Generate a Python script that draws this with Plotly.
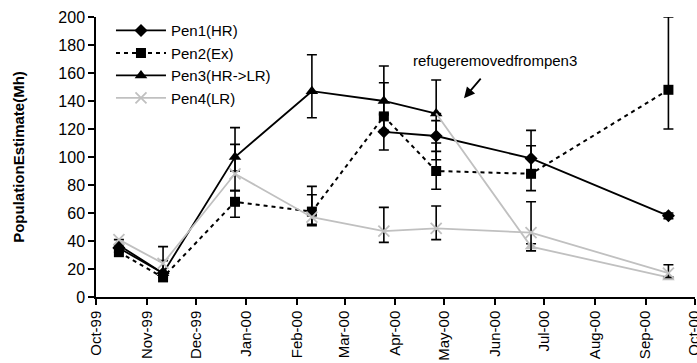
import plotly.graph_objects as go

dates = ["1999-10-15", "1999-11-11", "1999-12-25", "2000-02-10",
         "2000-03-25", "2000-04-26", "2000-06-23", "2000-09-15"]

pen1 = [35, 17, None, None, 118, 115, 99, 58]
pen1_plus = [None, 9, None, None, 13, 11, 20, 2]
pen1_minus = [None, None, None, None, 13, 11, 11, 2]

pen2 = [32, 14, 68, 61, 129, 90, 88, 148]
pen2_plus = [None, None, 8, 18, 24, 20, 20, 52]
pen2_minus = [None, None, 11, 10, 10, 13, 12, 28]

pen3 = [37, 17, 100, 147, 140, 131, 36, 14]
pen3_plus = [None, None, 21, 26, 25, 24, 2, None]
pen3_minus = [None, None, 10, 19, 10, 33, 3, None]

pen4 = [41, 24, 88, 57, 47, 49, 46, 17]
pen4_plus = [None, 12, 21, 16, 17, 16, 22, 6]
pen4_minus = [None, 8, 12, 5, 8, 8, 13, 3]

names = ["Pen1(HR)", "Pen2(Ex)", "Pen3(HR->LR)", "Pen4(LR)"]
refuge_idx = 5  # Pen3 switches to low refuge after this sampling date

BLACK = "#000000"
GRAY = "#c0c0c0"
FONT = "Liberation Sans, Arial, sans-serif"


def err(plus, minus):
    return dict(type="data", symmetric=False, array=plus, arrayminus=minus,
                color=BLACK, thickness=1.6, width=5)


fig = go.Figure()

fig.add_trace(go.Scatter(
    x=dates, y=pen1, name=names[0], mode="lines+markers",
    line=dict(color=BLACK, width=1.8),
    marker=dict(symbol="diamond", size=10, color=BLACK),
    error_y=err(pen1_plus, pen1_minus)))

fig.add_trace(go.Scatter(
    x=dates, y=pen2, name=names[1], mode="lines+markers",
    line=dict(color=BLACK, width=2, dash="4px,4px"),
    marker=dict(symbol="square", size=10, color=BLACK),
    error_y=err(pen2_plus, pen2_minus)))

fig.add_trace(go.Scatter(
    x=dates[:refuge_idx + 1], y=pen3[:refuge_idx + 1], name=names[2],
    mode="lines+markers",
    line=dict(color=BLACK, width=1.8),
    marker=dict(symbol="triangle-up", size=11, color=BLACK),
    error_y=err(pen3_plus[:refuge_idx + 1], pen3_minus[:refuge_idx + 1])))

fig.add_trace(go.Scatter(
    x=dates[refuge_idx:], y=pen3[refuge_idx:], name=names[2],
    mode="lines+markers", showlegend=False,
    line=dict(color=GRAY, width=1.8),
    marker=dict(symbol="triangle-up", size=11,
                color=["rgba(0,0,0,0)"] + [GRAY] * (len(dates) - refuge_idx - 1)),
    error_y=err([None] + pen3_plus[refuge_idx + 1:],
                [None] + pen3_minus[refuge_idx + 1:])))

fig.add_trace(go.Scatter(
    x=dates, y=pen4, name=names[3], mode="lines+markers",
    line=dict(color=GRAY, width=1.8),
    marker=dict(symbol="x-thin", size=11, color=GRAY,
                line=dict(color=GRAY, width=1.8)),
    error_y=err(pen4_plus, pen4_minus)))

fig.add_annotation(
    x="2000-05-13", y=142, xref="x", yref="y", text="",
    showarrow=True, arrowhead=2, arrowsize=1.2, arrowwidth=1.8,
    arrowcolor=BLACK, ax=18, ay=-21)
fig.add_annotation(
    x="2000-06-01", y=169, xref="x", yref="y", text="refugeremovedfrompen3",
    showarrow=False, font=dict(family=FONT, size=15, color=BLACK))

fig.update_layout(
    width=697, height=363,
    margin=dict(l=96, r=2, t=17, b=66, autoexpand=False),
    paper_bgcolor="white", plot_bgcolor="white",
    font=dict(family=FONT, color=BLACK),
    showlegend=True,
    legend=dict(x=0.025, y=1.01, xanchor="left", yanchor="top",
                bgcolor="rgba(0,0,0,0)", font=dict(family=FONT, size=15),
                tracegroupgap=0, itemwidth=50),
)

fig.update_xaxes(
    type="date", range=["1999-10-01", "2000-10-01 06:00"],
    tickmode="linear", tick0="1999-10-01", dtick="M1",
    tickformat="%b-%y", tickangle=-90, ticklabeloverflow="allow",
    automargin=False,
    tickfont=dict(family=FONT, size=15),
    showline=True, linecolor=BLACK, linewidth=1.5,
    ticks="outside", ticklen=6, tickcolor=BLACK, tickwidth=1.5,
    showgrid=False, zeroline=False)

fig.update_yaxes(
    range=[0, 200], dtick=20, tick0=0, automargin=False,
    tickfont=dict(family=FONT, size=16),
    showline=True, linecolor=BLACK, linewidth=1.5,
    ticks="outside", ticklen=6, tickcolor=BLACK, tickwidth=1.5,
    showgrid=False, zeroline=False,
    title=dict(text="<b>PopulationEstimate(Mh)</b>",
               font=dict(family=FONT, size=15), standoff=30))

fig.write_html("out.html",
               config={"displayModeBar": False},
               post_script="document.body.style.margin='0';")
